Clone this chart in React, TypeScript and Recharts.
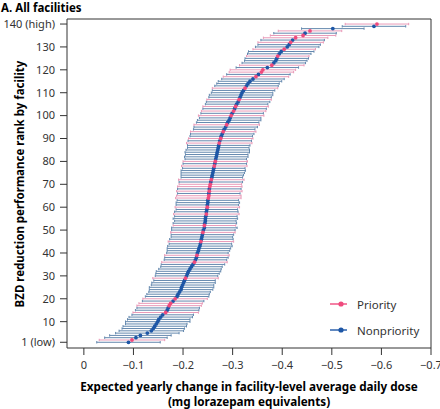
import React from "react";
import {
  ScatterChart,
  Scatter,
  XAxis,
  YAxis,
  ErrorBar,
  ReferenceLine,
} from "recharts";

// Point estimates (mg lorazepam eq.), ordered by rank 1 (low) .. 140 (high)
const estimates = [
  -0.090, -0.097, -0.105, -0.114, -0.128, -0.136, -0.140, -0.143, -0.146, -0.149,
  -0.151, -0.155, -0.159, -0.165, -0.168, -0.170, -0.172, -0.175, -0.180, -0.184,
  -0.188, -0.190, -0.193, -0.196, -0.197, -0.199, -0.201, -0.203, -0.205, -0.207,
  -0.209, -0.211, -0.214, -0.217, -0.220, -0.223, -0.225, -0.227, -0.228, -0.229,
  -0.231, -0.232, -0.234, -0.235, -0.236, -0.237, -0.238, -0.239, -0.240, -0.241,
  -0.243, -0.243, -0.244, -0.245, -0.245, -0.246, -0.247, -0.247, -0.248, -0.249,
  -0.249, -0.250, -0.250, -0.251, -0.252, -0.252, -0.253, -0.253, -0.254, -0.255,
  -0.256, -0.257, -0.258, -0.259, -0.260, -0.261, -0.262, -0.263, -0.264, -0.265,
  -0.266, -0.267, -0.268, -0.269, -0.270, -0.271, -0.272, -0.273, -0.274, -0.276,
  -0.277, -0.279, -0.281, -0.283, -0.286, -0.288, -0.290, -0.293, -0.295, -0.297,
  -0.299, -0.302, -0.304, -0.306, -0.308, -0.311, -0.313, -0.315, -0.317, -0.319,
  -0.322, -0.325, -0.328, -0.331, -0.335, -0.341, -0.347, -0.352, -0.358, -0.361,
  -0.370, -0.379, -0.383, -0.387, -0.389, -0.391, -0.394, -0.398, -0.404, -0.410,
  -0.414, -0.417, -0.421, -0.427, -0.442, -0.446, -0.456, -0.502, -0.585, -0.591,
];

// Half-width of the 95% interval for each facility
const halfWidths = [
  0.064, 0.066, 0.063, 0.062, 0.064, 0.065, 0.063, 0.064, 0.062, 0.065,
  0.063, 0.064, 0.062, 0.066, 0.064, 0.063, 0.065, 0.064, 0.062, 0.065,
  0.064, 0.063, 0.062, 0.064, 0.065, 0.063, 0.064, 0.062, 0.066, 0.063,
  0.064, 0.065, 0.063, 0.062, 0.064, 0.066, 0.063, 0.064, 0.065, 0.062,
  0.063, 0.064, 0.065, 0.063, 0.066, 0.064, 0.062, 0.063, 0.065, 0.064,
  0.066, 0.063, 0.064, 0.062, 0.065, 0.063, 0.066, 0.064, 0.062, 0.065,
  0.063, 0.064, 0.062, 0.066, 0.065, 0.063, 0.066, 0.064, 0.065, 0.063,
  0.064, 0.066, 0.062, 0.063, 0.064, 0.065, 0.063, 0.066, 0.064, 0.065,
  0.062, 0.064, 0.063, 0.065, 0.064, 0.062, 0.063, 0.066, 0.064, 0.065,
  0.063, 0.064, 0.066, 0.062, 0.064, 0.066, 0.063, 0.064, 0.062, 0.066,
  0.063, 0.065, 0.064, 0.066, 0.063, 0.064, 0.065, 0.063, 0.064, 0.062,
  0.063, 0.066, 0.064, 0.063, 0.064, 0.063, 0.066, 0.064, 0.065, 0.066,
  0.063, 0.065, 0.064, 0.063, 0.064, 0.063, 0.064, 0.066, 0.063, 0.064,
  0.063, 0.066, 0.064, 0.065, 0.066, 0.063, 0.064, 0.063, 0.064, 0.064,
];

// Ranks of the priority facilities (the rest are nonpriority)
const priorityRanks = [
  2, 14, 17, 18, 20, 29, 36, 39, 45, 49, 52, 57, 60, 64, 65, 67, 69, 70, 72, 78,
  80, 88, 90, 93, 96, 100, 102, 104, 107, 112, 117, 119, 120, 122, 126, 129, 132,
  134, 135, 137, 140,
];

const xTicks = [0, -0.1, -0.2, -0.3, -0.4, -0.5, -0.6, -0.7];
const yTicks = [1, 10, 20, 30, 40, 50, 60, 70, 80, 90, 100, 110, 120, 130, 140];

const PINK_DOT = "#ef4a7d";
const BLUE_DOT = "#1d56a6";
const PINK_BAR = "#e99ab8";
const BLUE_BAR = "#6488ae";
const AXIS = "#333";
const FONT = "'Noto Sans', sans-serif";

const rows = estimates.map((est, i) => ({
  rank: i + 1,
  est,
  ci: halfWidths[i],
  priority: priorityRanks.includes(i + 1),
}));
const priorityRows = rows.filter((r) => r.priority);
const nonpriorityRows = rows.filter((r) => !r.priority);

const fmtX = (v: number) => (v === 0 ? "0" : "\u2212" + Math.abs(v).toFixed(1));
const fmtY = (v: number) => (v === 1 ? "1 (low)" : v === 140 ? "140 (high)" : String(v));

// plain svg tick so "140 (high)" never wraps
function YTick({ x, y, payload }: any) {
  return (
    <text x={x} y={y} dy="0.35em" textAnchor="end" fontSize={11} fill={AXIS} fontFamily={FONT}>
      {fmtY(payload.value)}
    </text>
  );
}

const dot = (color: string) => (props: any) =>
  <circle cx={props.cx} cy={props.cy} r={1.9} fill={color} />;
const noShape = () => <g />;

function LegendItem({ color, label, top }: { color: string; label: string; top: number }) {
  return (
    <div style={{ position: "absolute", left: 330, top, display: "flex", alignItems: "center", height: 16 }}>
      <svg width={18} height={8}>
        <line x1={0} y1={4} x2={17} y2={4} stroke={color} strokeWidth={1.4} />
        <circle cx={11} cy={4} r={2.6} fill={color} />
      </svg>
      <span style={{ marginLeft: 9, fontSize: 11.5, color: "#333" }}>{label}</span>
    </div>
  );
}

export default function App() {
  return (
    <div style={{ position: "absolute", left: 0, top: 0, width: 440, height: 409, fontFamily: FONT, background: "#fff" }}>
      <ScatterChart width={440} height={409} margin={{ top: 19, right: 9, bottom: 0, left: 0 }}>
        <XAxis
          type="number"
          dataKey="est"
          domain={[-0.7, 0.034]}
          reversed
          allowDataOverflow
          ticks={xTicks}
          interval={0}
          tickFormatter={fmtX}
          height={61}
          tickSize={7}
          tickMargin={6}
          stroke={AXIS}
          tick={{ fontSize: 11, fill: AXIS, fontFamily: FONT }}
        />
        <YAxis
          type="number"
          dataKey="rank"
          domain={[-1.5, 142.2]}
          allowDataOverflow
          ticks={yTicks}
          interval={0}
          width={67}
          tickSize={7}
          tickMargin={5}
          stroke={AXIS}
          tick={<YTick />}
        />
        <ReferenceLine y={142.2} stroke={AXIS} strokeWidth={1} />
        <ReferenceLine x={-0.7} stroke={AXIS} strokeWidth={1} />

        {/* Interval bars first, dots drawn on top */}
        <Scatter data={nonpriorityRows} shape={noShape} legendType="none" isAnimationActive={false}>
          <ErrorBar dataKey="ci" direction="x" width={1.2} stroke={BLUE_BAR} strokeWidth={1} isAnimationActive={false} />
        </Scatter>
        <Scatter data={priorityRows} shape={noShape} legendType="none" isAnimationActive={false}>
          <ErrorBar dataKey="ci" direction="x" width={1.2} stroke={PINK_BAR} strokeWidth={1} isAnimationActive={false} />
        </Scatter>
        <Scatter name="Nonpriority" data={nonpriorityRows} shape={dot(BLUE_DOT)} isAnimationActive={false} />
        <Scatter name="Priority" data={priorityRows} shape={dot(PINK_DOT)} isAnimationActive={false} />
      </ScatterChart>

      <div style={{ position: "absolute", left: 1, top: 0, fontSize: 11.5, fontWeight: 700, lineHeight: "16px" }}>
        A. All facilities
      </div>
      <div
        style={{
          position: "absolute",
          left: 19,
          top: 183.5,
          transform: "translate(-50%, -50%) rotate(-90deg)",
          whiteSpace: "nowrap",
          fontSize: 11.5,
          fontWeight: 700,
        }}
      >
        BZD reduction performance rank by facility
      </div>
      <div
        style={{
          position: "absolute",
          left: 49,
          width: 400,
          top: 379,
          textAlign: "center",
          fontSize: 11.7,
          fontWeight: 700,
          lineHeight: "15px",
          whiteSpace: "nowrap",
        }}
      >
        Expected yearly change in facility-level average daily dose
        <br />
        (mg lorazepam equivalents)
      </div>

      <LegendItem color={PINK_DOT} label="Priority" top={296} />
      <LegendItem color={BLUE_DOT} label="Nonpriority" top={322} />
    </div>
  );
}
